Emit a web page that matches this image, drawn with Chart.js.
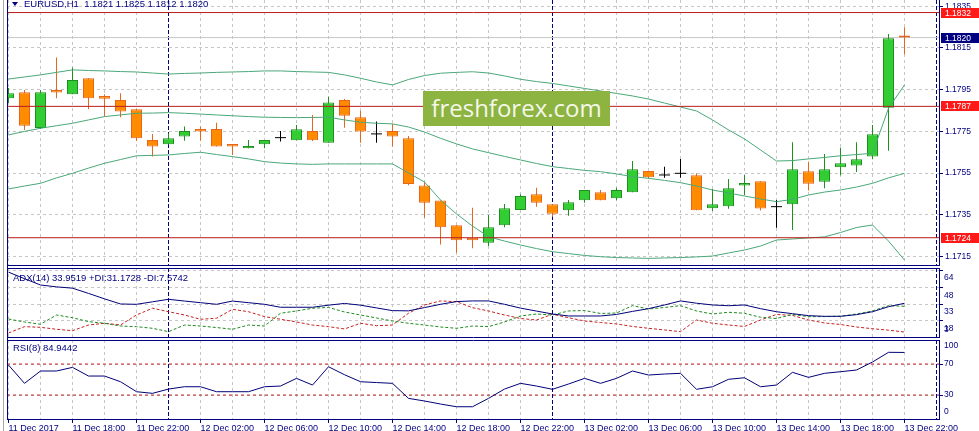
<!DOCTYPE html>
<html><head><meta charset="utf-8">
<script src="https://cdn.jsdelivr.net/npm/chart.js@4.4.1/dist/chart.umd.min.js"></script>
<style>
html,body{margin:0;padding:0;background:#fff;}
body{width:979px;height:431px;overflow:hidden;position:relative;font-family:"Liberation Sans",Arial,sans-serif;}
canvas{position:absolute;left:0;}
.txt{position:absolute;font-size:9.5px;line-height:10px;color:#000080;white-space:pre;z-index:5;font-family:"Liberation Sans",Arial,sans-serif;}
</style></head><body>
<canvas id="cMain" width="979" height="266" style="top:0"></canvas>
<canvas id="cAdx" width="979" height="71" style="top:267px"></canvas>
<canvas id="cRsi" width="979" height="92" style="top:339px"></canvas>
<div style="position:absolute;left:7px;top:0;width:1px;height:420px;background:#000080;z-index:4"></div>
<div style="position:absolute;left:3px;top:0;width:1px;height:431px;background:#a8a8a8;z-index:4"></div>
<div style="position:absolute;left:12px;top:2px;width:0;height:0;border-left:3px solid transparent;border-right:3px solid transparent;border-top:4px solid #000080;z-index:5"></div>
<div id="title" class="txt" style="left:24px;top:-1px"></div>
<div id="adxLbl" class="txt" style="left:13px;top:273px"></div>
<div id="rsiLbl" class="txt" style="left:13px;top:343px"></div>
<div style="position:absolute;left:423px;top:91px;width:187px;height:35px;background:#8db340;color:#f4f7ea;font-family:'Open Sans',sans-serif;font-size:24px;line-height:34px;text-align:center;z-index:6">freshforex.com</div>
<script>
// ---------------- data ----------------
const symbol = 'EURUSD,H1';
const candleOpen = [1.17909,1.17938,1.17766,1.17949,1.17928,1.18005,1.17920,1.17901,1.17856,1.17709,
1.17688,1.17725,1.17762,1.17762,1.17690,1.17669,1.17688,1.17720,1.17707,1.17752,
1.17696,1.17901,1.17818,1.17738,1.17752,1.17717,1.17490,1.17418,1.17300,1.17240,
1.17216,1.17300,1.17373,1.17448,1.17400,1.17372,1.17420,1.17458,1.17429,1.17458,
1.17560,1.17541,1.17549,1.17540,1.17381,1.17391,1.17490,1.17511,1.17389,1.17400,
1.17559,1.17509,1.17578,1.17587,1.17629,1.17864,1.1821];
const candleHigh = [1.17958,1.17949,1.17949,1.18105,1.18056,1.18006,1.17928,1.17933,1.17857,1.17738,
1.17741,1.17773,1.17773,1.17792,1.17690,1.17709,1.17709,1.17752,1.17781,1.17829,
1.17916,1.17905,1.17849,1.17797,1.17785,1.17728,1.17509,1.17418,1.17300,1.17384,
1.17349,1.17402,1.17448,1.17480,1.17400,1.17421,1.17469,1.17469,1.17480,1.17608,
1.17560,1.17581,1.17618,1.17549,1.17474,1.17522,1.17541,1.17511,1.17421,1.17698,
1.17605,1.17642,1.17672,1.17698,1.17781,1.18217,1.1825];
const candleLow = [1.17886,1.17757,1.17762,1.17909,1.17928,1.17856,1.17824,1.17818,1.17704,1.17629,
1.17687,1.17705,1.17705,1.17677,1.17637,1.17669,1.17669,1.17701,1.17707,1.17704,
1.17696,1.17768,1.17696,1.17696,1.17677,1.17492,1.17336,1.17208,1.17168,1.17189,
1.17200,1.17290,1.17373,1.17389,1.17341,1.17346,1.17408,1.17420,1.17420,1.17458,
1.17522,1.17528,1.17528,1.17372,1.17368,1.17379,1.17444,1.17370,1.17288,1.17277,
1.17467,1.17477,1.17540,1.17555,1.17616,1.17657,1.1812];
const candleClose = [1.17933,1.17777,1.17938,1.17937,1.17997,1.17909,1.17907,1.17845,1.17717,1.17677,
1.17717,1.17752,1.17750,1.17677,1.17677,1.17680,1.17709,1.17720,1.17760,1.17707,
1.17889,1.17825,1.17749,1.17738,1.17725,1.17498,1.17408,1.17290,1.17228,1.17228,
1.17290,1.17381,1.17440,1.17408,1.17355,1.17410,1.17469,1.17420,1.17469,1.17568,
1.17530,1.17541,1.17549,1.17372,1.17400,1.17477,1.17503,1.17380,1.17389,1.17568,
1.17499,1.17568,1.17597,1.17616,1.17736,1.18197,1.1820];
const bbUpper = [1.18001,1.18011,1.18021,1.18033,1.18045,1.18042,1.18040,1.18037,1.18035,1.18030,
1.18025,1.18028,1.18030,1.18033,1.18035,1.18037,1.18040,1.18040,1.18037,1.18035,
1.18033,1.18021,1.18005,1.17987,1.17973,1.17999,1.18018,1.18029,1.18033,1.18036,
1.18030,1.18016,1.18000,1.17989,1.17980,1.17968,1.17956,1.17944,1.17932,1.17920,
1.17905,1.17886,1.17867,1.17848,1.17805,1.17757,1.17714,1.17661,1.17608,1.17610,
1.17618,1.17625,1.17633,1.17639,1.17645,1.17861,1.17973];
const bbMiddle = [1.17733,1.17750,1.17765,1.17777,1.17789,1.17805,1.17821,1.17829,1.17837,1.17838,
1.17840,1.17837,1.17833,1.17829,1.17825,1.17821,1.17818,1.17817,1.17816,1.17817,
1.17818,1.17805,1.17794,1.17789,1.17786,1.17771,1.17747,1.17717,1.17690,1.17666,
1.17648,1.17630,1.17613,1.17596,1.17581,1.17572,1.17563,1.17557,1.17546,1.17533,
1.17525,1.17515,1.17504,1.17488,1.17469,1.17455,1.17440,1.17426,1.17413,1.17424,
1.17445,1.17459,1.17469,1.17483,1.17501,1.17527,1.17549];
const bbLower = [1.17474,1.17488,1.17501,1.17527,1.17549,1.17574,1.17597,1.17615,1.17633,1.17635,
1.17637,1.17644,1.17650,1.17639,1.17629,1.17618,1.17605,1.17598,1.17594,1.17592,
1.17594,1.17594,1.17594,1.17594,1.17594,1.17551,1.17507,1.17421,1.17354,1.17296,
1.17245,1.17224,1.17205,1.17188,1.17173,1.17164,1.17155,1.17149,1.17145,1.17143,
1.17141,1.17143,1.17145,1.17148,1.17152,1.17167,1.17181,1.17200,1.17229,1.17234,
1.17239,1.17244,1.17265,1.17289,1.17301,1.17224,1.17133];
const adxMain = [62.5,56.5,50.7,49,47.8,43,38,33.3,33.0,35.3,
37.6,36,34.5,33.0,36,34.5,33,30.3,30.3,30.3,
32.2,33.8,32.2,29.7,27.2,27,30,33,35.5,36.1,
36.1,33,29.5,26.8,24.1,22.3,22.3,22.3,23.7,26.5,
29,32.4,36.1,34,32.4,31.7,32.4,29,26.2,24.4,
22.6,22,22,23.5,26.2,30.8,33.9519];
const adxPlus = [19.5,16.8,14.7,23.2,20.7,17.1,15.6,13.1,12.5,11.0,
7.9,14.0,13.1,11.7,10.1,14.0,13.1,24.8,26.9,29.4,
30.1,26,23.2,20.5,17.7,15.6,14.0,12.2,11.0,13.1,
12.5,16.8,22.3,24.1,23.2,26.9,27.3,24.6,25.0,31.8,
28.7,30.1,31.8,26.9,24.1,25.7,24.8,21.1,20.0,23.7,
21.7,21.7,22.1,24.1,26.9,31.8,31.1728];
const adxMinus = [6.7,12.5,11.9,10.1,8.8,14.0,15.6,14.0,23.2,29.4,
26.2,23.2,19.3,20.2,28.4,26.2,21.7,19.3,16.8,14.0,
12.5,10.4,15.6,13.4,14.0,24.8,32.4,36.1,35.4,29.9,
26.9,23.2,20.0,18.6,23.9,20.7,17.7,16.3,15.0,12.7,
11.0,9.5,7.9,18.6,15.6,14.0,12.7,18.6,23.7,22.8,
18.6,15.9,14.5,12.2,10.6,9.3,7.5742];
const rsi = [68.7,45.1,61.0,61.0,65.7,54.5,54.5,47.2,34.3,32.2,
37.7,40.7,40.7,34.3,34.3,34.3,40.7,41.6,51.5,42.9,
66.5,56.2,47.2,46.1,45.1,25.7,22.3,18.4,14.9,14.9,
25.7,37.7,45.1,41.6,37.4,44.2,51.5,45.1,51.5,61.0,
55.8,57.1,58.0,37.4,40.7,50.3,52.3,40.7,42.9,59.3,
52.8,58.0,60.1,62.3,72.6,85.1,84.9442];
const levelPrices = [1.1832, 1.1787, 1.1724];
const priceTicks = [1.1715, 1.1735, 1.1755, 1.1775, 1.1795, 1.1815, 1.1835];
const adxTicks = [64, 48, 33, 18, 3];
const rsiTicks = [100, 70, 30, 0];
const rsiLevels = [70, 30];
const xLabels = ['11 Dec 2017','11 Dec 18:00','11 Dec 22:00','12 Dec 02:00','12 Dec 06:00','12 Dec 10:00','12 Dec 14:00','12 Dec 18:00','12 Dec 22:00','13 Dec 02:00','13 Dec 06:00','13 Dec 10:00','13 Dec 14:00','13 Dec 18:00','13 Dec 22:00'];
const xLabelIdx = [0,4,8,12,16,20,24,28,32,36,40,44,48,52,56];
const gridIdx = [0,2,4,6,8,10,12,14,16,18,20,22,24,26,28,30,32,34,36,38,40,42,44,46,48,50,52,54,56,58];
const sepIdx = [10, 34, 58];

// ---------------- style / geometry ----------------
const NAVY = '#000080', GRID = '#c6c6c6', BB = '#4aa878';
const FONT = '"Liberation Sans", Arial, sans-serif';
const FS = 8.5, FSX = 9;
const XMIN = -0.09375, XMAX = 58.21875;
const PMIN = 1.171044, PMAX = 1.183802;
const ADX_MIN = 2.1, ADX_MAX = 66.3;
const RSI_MIN = -2.2, RSI_MAX = 101;

const last = candleClose.length - 1;
const idx = candleOpen.map((_, i) => i);
const kind = i => candleClose[i] > candleOpen[i] ? 'bull' : (candleClose[i] < candleOpen[i] ? 'bear' : 'doji');
const FILL = {bull:'#32cd32', bear:'#ff8c00', doji:'#000000'};
const EDGE = {bull:'#1f8f1f', bear:'#e8661c', doji:'#000000'};
const pts = arr => arr.map((y, i) => ({x: i, y}));
const hline = v => [{x: XMIN, y: v}, {x: XMAX, y: v}];
const isSep = c => !!(c.tick && sepIdx.includes(c.tick.value));

document.getElementById('title').textContent = symbol + '  ' + [candleOpen[last], candleHigh[last], candleLow[last], candleClose[last]].map(v => v.toFixed(4)).join(' ');
document.getElementById('adxLbl').textContent = 'ADX(14) ' + adxMain[last].toFixed(4) + ' +DI:' + adxPlus[last].toFixed(4) + ' -DI:' + adxMinus[last].toFixed(4);
document.getElementById('rsiLbl').textContent = 'RSI(8) ' + rsi[last].toFixed(4);

function xAxis(showLabels) {
  return {
    type:'linear', min:XMIN, max:XMAX, offset:false,
    afterBuildTicks: s => { s.ticks = gridIdx.map(v => ({value: v})); },
    afterFit: s => { s.height = showLabels ? 11 : 0; s.paddingLeft = 0; s.paddingRight = 0; },
    ticks: showLabels ? {display:true, autoSkip:false, maxRotation:0, minRotation:0, align:'start', padding:0,
      color:NAVY, font:{family:FONT, size:FSX},
      callback: v => { const k = xLabelIdx.indexOf(v); return k >= 0 ? xLabels[k] : ''; }} : {display:false},
    grid: {offset:false, lineWidth:1, color: c => isSep(c) ? NAVY : GRID, drawTicks: showLabels, tickLength:3, tickWidth:1,
      tickColor: c => (c.tick && xLabelIdx.includes(c.tick.value)) ? NAVY : 'rgba(0,0,0,0)'},
    border: {display:false, dash: c => isSep(c) ? [4,2] : [3,3]}
  };
}
function yAxis(min, max, ticks, showLabels, fmt) {
  return {
    type:'linear', position:'right', min, max, beginAtZero:false,
    afterBuildTicks: s => { s.ticks = ticks.map(v => ({value:v})); },
    afterFit: s => { s.width = 39; s.paddingTop = 0; s.paddingBottom = 0; },
    ticks: showLabels ? {display:true, color:NAVY, font:{family:FONT, size:FS}, padding:2, callback: fmt} : {display:false},
    grid: {lineWidth:1, color:GRID, drawTicks:true, tickLength:3, tickColor:NAVY},
    border: {display:false, dash:[3,3]}
  };
}

const frame = {id:'frame', afterDraw(chart, args, o) {
  const {ctx, chartArea:a} = chart;
  ctx.save(); ctx.strokeStyle = NAVY; ctx.lineWidth = 1; ctx.setLineDash([]); ctx.beginPath();
  if (o && o.top) { ctx.moveTo(a.left, a.top + 0.5); ctx.lineTo(a.right, a.top + 0.5); }
  ctx.moveTo(a.left, a.bottom - 0.5); ctx.lineTo(a.right, a.bottom - 0.5);
  ctx.moveTo(a.left + 0.5, a.top); ctx.lineTo(a.left + 0.5, a.bottom);
  ctx.moveTo(a.right - 0.5, a.top); ctx.lineTo(a.right - 0.5, a.bottom);
  ctx.stroke(); ctx.restore();
}};
const side = {id:'side', afterDraw(chart, args, o) {
  if (!o || !o.items) return;
  const {ctx, chartArea:a, scales:{y}} = chart;
  ctx.save(); ctx.font = FS + 'px ' + FONT; ctx.fillStyle = NAVY; ctx.textBaseline = 'middle'; ctx.textAlign = 'left';
  o.items.forEach(v => {
    let py = y.getPixelForValue(v) + (o.offset || 0);
    py = Math.min(Math.max(py, a.top + 6), a.bottom - 8);
    ctx.fillText(String(v), a.right + 4, py);
  });
  ctx.restore();
}};
const boxes = {id:'boxes', afterDraw(chart) {
  const {ctx, chartArea:a, scales:{y}} = chart;
  ctx.save(); ctx.font = FS + 'px ' + FONT; ctx.textBaseline = 'middle'; ctx.textAlign = 'left';
  const draw = (v, bg) => {
    const py = Math.round(y.getPixelForValue(v));
    ctx.fillStyle = bg; ctx.fillRect(a.right + 1, py - 5, chart.width - a.right - 1, 10);
    ctx.fillStyle = '#ffffff'; ctx.fillText(v.toFixed(4), a.right + 5, py + 0.5);
  };
  levelPrices.forEach(v => draw(v, '#ff1a1a'));
  draw(candleClose[last], NAVY);
  ctx.restore();
}};

const common = {responsive:false, animation:false, devicePixelRatio:1, events:[]};

new Chart(document.getElementById('cMain'), {
  type:'bar',
  data:{datasets:[
    ...levelPrices.map(v => ({type:'line', data:hline(v), borderColor:'#b81c1c', borderWidth:1, pointRadius:0, order:1})),
    {type:'line', data:pts(bbUpper), borderColor:BB, borderWidth:1, pointRadius:0, order:2},
    {type:'line', data:pts(bbMiddle), borderColor:BB, borderWidth:1, pointRadius:0, order:2},
    {type:'line', data:pts(bbLower), borderColor:BB, borderWidth:1, pointRadius:0, order:2},
    {type:'line', showLine:false, data: idx.filter(i => kind(i) === 'doji').map(i => ({x:i, y:candleClose[i]})),
      pointStyle:'line', pointRadius:5.5, pointBorderColor:'#000', pointBackgroundColor:'#000', pointBorderWidth:1, order:3},
    {type:'bar', data: idx.map(i => ({x:i, y:[candleOpen[i], candleClose[i]]})),
      backgroundColor: c => FILL[kind(c.dataIndex)], borderColor: c => EDGE[kind(c.dataIndex)],
      borderWidth:1, borderSkipped:false, barThickness:11, maxBarThickness:11, grouped:false, inflateAmount:0, order:4},
    {type:'bar', data: idx.map(i => ({x:i, y:[candleLow[i], candleHigh[i]]})),
      backgroundColor: c => EDGE[kind(c.dataIndex)], borderWidth:0, barThickness:1, maxBarThickness:1, grouped:false, inflateAmount:0, order:5},
    {type:'line', data:hline(candleClose[last]), borderColor:'#c8c8c8', borderWidth:1, pointRadius:0, order:6}
  ]},
  options:Object.assign({}, common, {
    layout:{autoPadding:false, padding:{left:7, top:0, right:0, bottom:0}},
    plugins:{legend:{display:false}, tooltip:{enabled:false}, frame:{top:false}},
    scales:{x:xAxis(false), y:yAxis(PMIN, PMAX, priceTicks, true, v => Number(v).toFixed(4))}
  }),
  plugins:[frame, boxes]
});

new Chart(document.getElementById('cAdx'), {
  type:'line',
  data:{datasets:[
    {data:pts(adxMain), borderColor:'#00007a', borderWidth:1, pointRadius:0},
    {data:pts(adxPlus), borderColor:'#1e8a1e', borderWidth:1, borderDash:[3,2], pointRadius:0},
    {data:pts(adxMinus), borderColor:'#c82020', borderWidth:1, borderDash:[3,2], pointRadius:0}
  ]},
  options:Object.assign({}, common, {
    layout:{autoPadding:false, padding:{left:7, top:1, right:0, bottom:0}},
    plugins:{legend:{display:false}, tooltip:{enabled:false}, frame:{top:true}, side:{items:adxTicks, offset:7.5}},
    scales:{x:xAxis(false), y:yAxis(ADX_MIN, ADX_MAX, adxTicks.slice(0, 4), false)}
  }),
  plugins:[frame, side]
});

new Chart(document.getElementById('cRsi'), {
  type:'line',
  data:{datasets:[
    {data:pts(rsi), borderColor:'#00007a', borderWidth:1, pointRadius:0},
    ...rsiLevels.map(v => ({data:hline(v), borderColor:'#c82828', borderWidth:1, borderDash:[3,3], pointRadius:0}))
  ]},
  options:Object.assign({}, common, {
    layout:{autoPadding:false, padding:{left:7, top:1, right:0, bottom:0}},
    plugins:{legend:{display:false}, tooltip:{enabled:false}, frame:{top:true}, side:{items:rsiTicks, offset:0}},
    scales:{x:xAxis(true), y:yAxis(RSI_MIN, RSI_MAX, rsiLevels, false)}
  }),
  plugins:[frame, side]
});
</script>
</body></html>
